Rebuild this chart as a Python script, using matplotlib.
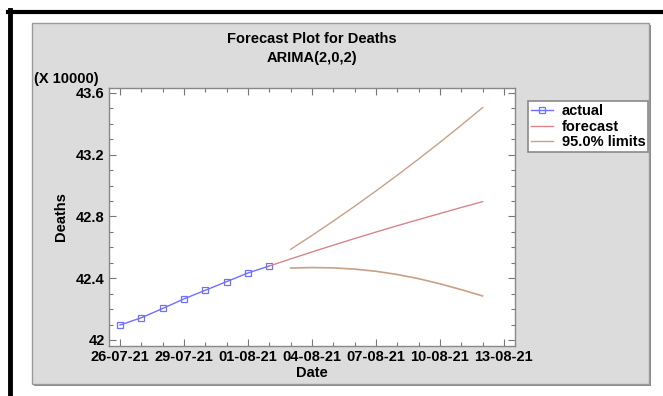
import matplotlib
matplotlib.use("Agg")
import matplotlib.pyplot as plt
import matplotlib.dates as mdates
import numpy as np
import pandas as pd
from matplotlib.patches import Rectangle
from matplotlib.lines import Line2D

plt.rcParams['font.family'] = ['Liberation Sans', 'DejaVu Sans']

# data (deaths, in units of 10000)
actual_dates = pd.date_range('2021-07-26', '2021-08-02', freq='D')
actual = [42.097, 42.144, 42.204, 42.266, 42.322, 42.378, 42.434, 42.479]

fc_dates = pd.date_range('2021-08-02', '2021-08-12', freq='D')
forecast = [42.479, 42.525, 42.570, 42.614, 42.657, 42.699, 42.740, 42.780, 42.819, 42.858, 42.896]

lim_dates = pd.date_range('2021-08-03', '2021-08-12', freq='D')
upper = [42.587, 42.677, 42.770, 42.866, 42.965, 43.067, 43.172, 43.280, 43.391, 43.505]
lower = [42.466, 42.469, 42.467, 42.459, 42.445, 42.424, 42.397, 42.364, 42.326, 42.285]

tick_dates = pd.date_range('2021-07-26', '2021-08-13', freq='3D')
y_ticks = [42, 42.4, 42.8, 43.2, 43.6]

W, H = 663, 396
fig = plt.figure(figsize=(W / 100, H / 100), dpi=100)
fig.patch.set_facecolor('white')

def fx(px):
    return px / W

def fy(py):
    return 1 - py / H

# gray panel with a small shadow
fig.patches.append(Rectangle((fx(34), fy(386)), fx(617), (386 - 25) / H,
                             transform=fig.transFigure, facecolor='#8a8a8a',
                             edgecolor='none', zorder=-2))
fig.patches.append(Rectangle((fx(32), fy(384)), fx(617), (384 - 23) / H,
                             transform=fig.transFigure, facecolor='#dcdcdc',
                             edgecolor='#9a9a9a', lw=1.0, zorder=-1))

# black frame (top and left only)
fig.lines.append(Line2D([fx(8), 1], [fy(11.5), fy(11.5)], transform=fig.transFigure,
                        color='black', lw=3, zorder=-1))
fig.lines.append(Line2D([fx(10), fx(10)], [fy(10), 0], transform=fig.transFigure,
                        color='black', lw=3.5, zorder=-1))

ax = fig.add_axes([fx(109), fy(346), fx(515 - 109), (346 - 88) / H])
ax.set_facecolor('white')

blue = '#7070ff'
red = '#d6868a'
tan = '#c9a086'

ax.plot(actual_dates, actual, color=blue, lw=1, marker='s', markersize=4.5,
        markerfacecolor='none', markeredgecolor=blue, markeredgewidth=0.9, label='actual')
ax.plot(fc_dates, forecast, color=red, lw=1.0, label='forecast')
ax.plot(lim_dates, upper, color=tan, lw=1.0, label='95.0% limits')
ax.plot(lim_dates, lower, color=tan, lw=1.2)

x0 = pd.Timestamp('2021-07-26')
ax.set_xlim(x0 - pd.Timedelta(hours=12.4), x0 + pd.Timedelta(hours=18.52 * 24))
ax.set_ylim(41.961, 43.632)

ax.set_xticks(tick_dates)
ax.xaxis.set_major_formatter(mdates.DateFormatter('%d-%m-%y'))
ax.xaxis.set_minor_locator(mdates.DayLocator())
ax.set_yticks(y_ticks)
ax.set_yticklabels(['42', '42.4', '42.8', '43.2', '43.6'])
ax.set_yticks(np.arange(42, 43.65, 0.1), minor=True)

ax.tick_params(which='both', direction='in', top=True, right=True, color='#777777')
ax.tick_params(which='major', length=5, width=0.8, labelsize=10.5, pad=3)
ax.tick_params(which='minor', length=3, width=0.8)
for lab in ax.get_xticklabels() + ax.get_yticklabels():
    lab.set_fontweight('bold')
for s in ax.spines.values():
    s.set_color('#888888')
    s.set_linewidth(1.0)

ax.set_xlabel('Date', fontsize=10.5, fontweight='bold', labelpad=1)
ax.set_ylabel('Deaths', fontsize=10.5, fontweight='bold', labelpad=6)

fig.text(fx(312), fy(39), 'Forecast Plot for Deaths', ha='center', va='center',
         fontsize=10.5, fontweight='bold')
fig.text(fx(312), fy(58), 'ARIMA(2,0,2)', ha='center', va='center',
         fontsize=10.5, fontweight='bold')
fig.text(fx(34), fy(79), '(X 10000)', ha='left', va='center',
         fontsize=10.5, fontweight='bold')

leg = fig.legend(*ax.get_legend_handles_labels(), loc='upper left',
                 bbox_to_anchor=(fx(528), fy(101)), frameon=True, fancybox=False,
                 edgecolor='#8a8a8a', framealpha=1, borderpad=0.2, borderaxespad=0,
                 labelspacing=0.12, handlelength=1.5, handletextpad=0.6,
                 prop={'size': 10.5, 'weight': 'bold'})
leg.get_frame().set_linewidth(1.2)

fig.savefig('out.png', dpi=100)
